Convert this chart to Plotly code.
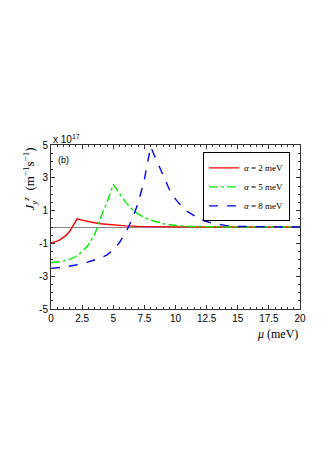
import plotly.graph_objects as go

# chemical potential mu (meV) and spin current J_y^z (x 1e17 m^-1 s^-1)
mu_a2 = [0, 0.25, 0.5, 0.75, 1.0, 1.25, 1.5, 1.75, 2.0, 2.1, 2.5, 3.0, 3.5, 4.0, 5.0, 6.0, 7.0, 8.0, 10.0, 12.0, 15.0, 20.0]
j_a2 = [-0.97, -0.93, -0.86, -0.77, -0.65, -0.48, -0.26, 0.05, 0.42, 0.5, 0.42, 0.33, 0.26, 0.2, 0.12, 0.07, 0.04, 0.02, 0.01, 0.005, 0.0, 0.0]

mu_a5 = [0, 0.5, 1.0, 1.5, 2.0, 2.5, 3.0, 3.5, 3.75, 4.0, 4.5, 5.0, 5.5, 6.0, 6.5, 7.0, 7.5, 8.0, 9.0, 10.0, 11.0, 12.0, 14.0, 20.0]
j_a5 = [-2.18, -2.15, -2.08, -1.97, -1.8, -1.5, -1.1, -0.45, 0.0, 0.6, 1.5, 2.6, 2.05, 1.5, 1.1, 0.8, 0.58, 0.42, 0.2, 0.09, 0.04, 0.02, 0.005, 0.0]

mu_a8 = [0, 1.0, 2.0, 3.0, 4.0, 4.5, 5.0, 5.5, 6.0, 6.5, 7.0, 7.5, 8.0, 8.5, 9.0, 9.5, 10.0, 10.5, 11.0, 12.0, 13.0, 14.0, 15.0, 16.0, 18.0, 20.0]
j_a8 = [-2.52, -2.45, -2.32, -2.13, -1.88, -1.7, -1.4, -0.95, -0.35, 0.45, 1.45, 2.9, 4.9, 4.0, 3.1, 2.3, 1.7, 1.25, 0.92, 0.45, 0.22, 0.1, 0.04, 0.02, 0.005, 0.0]

x_ticks = [0, 2.5, 5, 7.5, 10, 12.5, 15, 17.5, 20]
x_labels = ['0', '2.5', '5', '7.5', '10', '12.5', '15', '17.5', '20']
y_ticks = [-5, -3, -1, 1, 3, 5]
y_labels = ['-5', '-3', '-1', '1', '3', '5']

serif = 'Liberation Serif'
sans = 'Liberation Sans'

fig = go.Figure()
fig.add_trace(go.Scatter(x=mu_a2, y=j_a2, mode='lines', name='<i>α</i> = 2 meV',
                         line=dict(color='#ff0000', width=1.4)))
fig.add_trace(go.Scatter(x=mu_a5, y=j_a5, mode='lines', name='<i>α</i> = 5 meV',
                         line=dict(color='#00ee00', width=1.4, dash='dashdot')))
fig.add_trace(go.Scatter(x=mu_a8, y=j_a8, mode='lines', name='<i>α</i> = 8 meV',
                         line=dict(color='#0000ff', width=1.4, dash='dash')))

# the page body adds an 8px offset, so the figure is sized to fit inside the window
fig.update_layout(
    width=324, height=462,
    margin=dict(l=43, r=32, t=137, b=161),
    paper_bgcolor='white', plot_bgcolor='white',
    showlegend=True,
    legend=dict(x=0.96, y=0.955, xanchor='right', yanchor='top',
                bordercolor='black', borderwidth=1, bgcolor='white',
                font=dict(family=serif, size=9, color='black'),
                tracegroupgap=0, itemwidth=30),
)

fig.update_xaxes(range=[0, 20], tickvals=x_ticks, ticktext=x_labels,
                 showline=True, linecolor='#333', linewidth=1, mirror='ticks',
                 ticks='inside', ticklen=4, tickcolor='#333', showgrid=False, zeroline=False,
                 minor=dict(dtick=0.5, ticks='inside', ticklen=2, tickcolor='#333'),
                 tickfont=dict(family=sans, size=10, color='black'))
fig.update_yaxes(range=[-5, 5], tickvals=y_ticks, ticktext=y_labels,
                 showline=True, linecolor='#333', linewidth=1, mirror='ticks',
                 ticks='inside', ticklen=4, tickcolor='#333', showgrid=False,
                 zeroline=True, zerolinecolor='#888', zerolinewidth=1,
                 minor=dict(dtick=0.5, ticks='inside', ticklen=2, tickcolor='#333'),
                 tickfont=dict(family=sans, size=10, color='black'))

fig.add_annotation(x=0, y=1, xref='paper', yref='paper', xanchor='left', yanchor='bottom',
                   text='x 10<sup>17</sup>', showarrow=False, yshift=-2,
                   font=dict(family=sans, size=10, color='black'))
fig.add_annotation(x=0.02, y=0.95, xref='paper', yref='paper', xanchor='left', yanchor='top',
                   text='(b)', showarrow=False,
                   font=dict(family=sans, size=9, color='black'))
fig.add_annotation(x=-0.04, y=0.79, xref='paper', yref='paper', xanchor='right', yanchor='middle',
                   text='<i>J</i><sub><i>y</i></sub><sup><i>z</i></sup>  (m<sup>−1</sup>s<sup>−1</sup>)',
                   textangle=-90, showarrow=False,
                   font=dict(family=serif, size=13, color='black'))
fig.add_annotation(x=1, y=0, xref='paper', yref='paper', xanchor='right', yanchor='top',
                   text='<i>μ</i> (meV)', showarrow=False, yshift=-16,
                   font=dict(family=serif, size=12, color='black'))

fig.write_html("out.html")
